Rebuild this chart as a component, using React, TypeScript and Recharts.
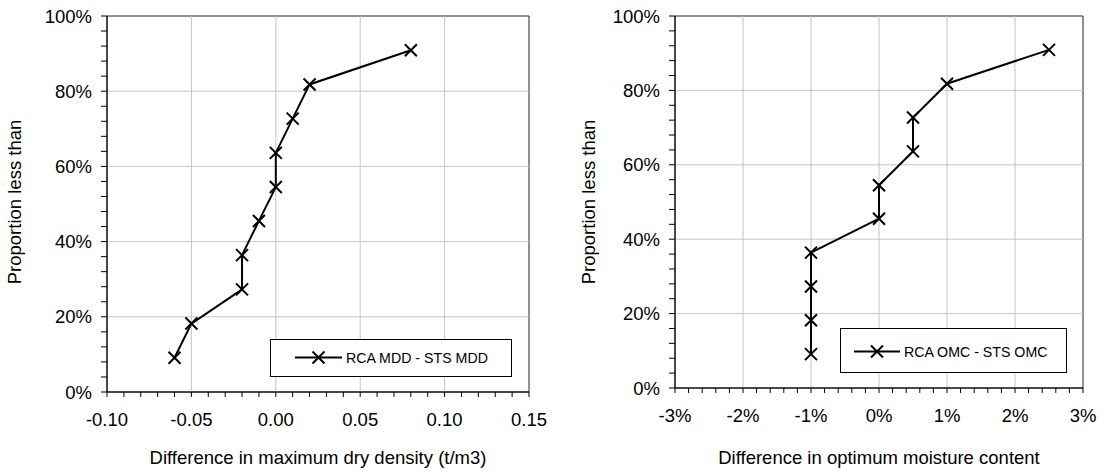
import React from 'react';
import {
  LineChart,
  Line,
  XAxis,
  YAxis,
  ReferenceLine,
  ReferenceArea,
  Legend,
  Label,
} from 'recharts';

// cumulative proportion (n = 11 samples)
const proportion = [0.091, 0.182, 0.273, 0.364, 0.455, 0.545, 0.636, 0.727, 0.818, 0.909];

// RCA MDD - STS MDD (t/m3)
const mddDiff = [-0.06, -0.05, -0.02, -0.02, -0.01, 0.0, 0.0, 0.01, 0.02, 0.08];
// RCA OMC - STS OMC
const omcDiff = [-0.01, -0.01, -0.01, -0.01, 0.0, 0.0, 0.005, 0.005, 0.01, 0.025];

const yMajorTicks = [0, 0.2, 0.4, 0.6, 0.8, 1];
const mddMajorTicks = [-0.1, -0.05, 0, 0.05, 0.1, 0.15];
const omcMajorTicks = [-0.03, -0.02, -0.01, 0, 0.01, 0.02, 0.03];

const FONT = '"Liberation Sans", Arial, Helvetica, sans-serif';
const GRID = '#c4c4c4';

const minorTicks = (from: number, to: number, step: number) => {
  const n = Math.round((to - from) / step);
  return Array.from({ length: n + 1 }, (_, i) => +(from + i * step).toFixed(6));
};
const yAllTicks = minorTicks(0, 1, 0.04);

const isMajor = (v: number, majors: number[]) => majors.some((m) => Math.abs(m - v) < 1e-9);

const XMark = (props: any) => {
  const { cx, cy, index } = props;
  if (cx == null || cy == null) return <g key={index} />;
  const s = 6;
  return (
    <path
      key={index}
      d={`M${cx - s},${cy - s}L${cx + s},${cy + s}M${cx - s},${cy + s}L${cx + s},${cy - s}`}
      stroke="#000"
      strokeWidth={2}
      fill="none"
    />
  );
};

type PanelProps = {
  left: number;
  width: number;
  xValues: number[];
  xDomain: [number, number];
  xMinorStep: number;
  xMajors: number[];
  fmt: (v: number) => string;
  xTitle: string;
  yAxisWidth: number;
  marginRight: number;
  xAxisHeight: number;
  yTitleX: number;
  seriesName: string;
  legend: { left: number; top: number; w: number; h: number; x1: number; x2: number; ly: number; tx: number; ty: number };
};

const Panel = (p: PanelProps) => {
  const data = p.xValues.map((x, i) => ({ x, y: proportion[i] }));
  const xAll = minorTicks(p.xDomain[0], p.xDomain[1], p.xMinorStep);
  const H = 473;
  const lg = p.legend;

  const legendContent = () => (
    <svg width={lg.w} height={lg.h} style={{ display: 'block' }}>
      <rect x={0.5} y={0.5} width={lg.w - 1} height={lg.h - 1} fill="#fff" stroke="#000" />
      <line x1={lg.x1} x2={lg.x2} y1={lg.ly} y2={lg.ly} stroke="#000" strokeWidth={2} />
      <XMark cx={(lg.x1 + lg.x2) / 2} cy={lg.ly} index={0} />
      <text x={lg.tx} y={lg.ty} fontSize={14.2} fontFamily={FONT} fill="#000">
        {p.seriesName}
      </text>
    </svg>
  );

  return (
    <div style={{ position: 'absolute', left: p.left, top: 0 }}>
      <LineChart
        width={p.width}
        height={H}
        data={data}
        margin={{ top: 16, right: p.marginRight, left: 0, bottom: 0 }}
      >
        <XAxis
          type="number"
          dataKey="x"
          domain={p.xDomain}
          ticks={xAll}
          interval={0}
          height={p.xAxisHeight}
          allowDataOverflow
          stroke="#000"
          tickSize={5}
          tickLine={{ stroke: '#000' }}
          tick={(t: any) => {
            const v = t.payload.value;
            if (!isMajor(v, p.xMajors)) return <g />;
            return (
              <text x={t.x} y={t.y + 26.5} textAnchor="middle" fontSize={18.5} fontFamily={FONT} fill="#000">
                {p.fmt(v)}
              </text>
            );
          }}
        >
          <Label
            content={(lp: any) => {
              const vb = lp.viewBox;
              return (
                <text
                  x={vb.x + vb.width / 2}
                  y={464}
                  textAnchor="middle"
                  fontSize={18.5}
                  fontFamily={FONT}
                  fill="#000"
                >
                  {p.xTitle}
                </text>
              );
            }}
          />
        </XAxis>
        <YAxis
          type="number"
          dataKey="y"
          domain={[0, 1]}
          ticks={yAllTicks}
          interval={0}
          width={p.yAxisWidth}
          allowDataOverflow
          stroke="#000"
          tickSize={6}
          tickLine={{ stroke: '#000' }}
          tick={(t: any) => {
            const v = t.payload.value;
            if (!isMajor(v, yMajorTicks)) return <g />;
            return (
              <text x={t.x - 7} y={t.y} dy="0.36em" textAnchor="end" fontSize={18.5} fontFamily={FONT} fill="#000">
                {`${Math.round(v * 100)}%`}
              </text>
            );
          }}
        >
          <Label
            content={() => (
              <text
                x={p.yTitleX}
                y={202}
                transform={`rotate(-90 ${p.yTitleX} 202)`}
                textAnchor="middle"
                fontSize={18.5}
                fontFamily={FONT}
                fill="#000"
              >
                Proportion less than
              </text>
            )}
          />
        </YAxis>
        {p.xMajors.slice(1, -1).map((v) => (
          <ReferenceLine key={`vx${v}`} x={v} stroke={GRID} strokeWidth={1} />
        ))}
        {yMajorTicks.slice(1, -1).map((v) => (
          <ReferenceLine key={`hy${v}`} y={v} stroke={GRID} strokeWidth={1} />
        ))}
        <ReferenceArea
          x1={p.xDomain[0]}
          x2={p.xDomain[1]}
          y1={0}
          y2={1}
          fill="none"
          fillOpacity={0}
          stroke="#222"
          strokeWidth={1}
        />
        <Legend
          layout="horizontal"
          align="center"
          verticalAlign="middle"
          content={legendContent}
          wrapperStyle={{ left: lg.left, top: lg.top, width: lg.w, height: lg.h }}
        />
        <Line
          type="linear"
          dataKey="y"
          name={p.seriesName}
          stroke="#000"
          strokeWidth={2}
          dot={XMark}
          activeDot={false}
          isAnimationActive={false}
        />
      </LineChart>
    </div>
  );
};

export default function App() {
  return (
    <div
      style={{
        position: 'absolute',
        left: 0,
        top: 0,
        width: 1106,
        height: 473,
        background: '#fff',
        overflow: 'hidden',
      }}
    >
      <Panel
        left={0}
        width={560}
        xValues={mddDiff}
        xDomain={[-0.1, 0.15]}
        xMinorStep={0.01}
        xMajors={mddMajorTicks}
        fmt={(v) => v.toFixed(2)}
        xTitle="Difference in maximum dry density (t/m3)"
        yAxisWidth={107}
        marginRight={31}
        xAxisHeight={81}
        yTitleX={21}
        seriesName="RCA MDD - STS MDD"
        legend={{ left: 270, top: 339, w: 242, h: 38, x1: 25, x2: 72, ly: 18.5, tx: 76, ty: 23.6 }}
      />
      <Panel
        left={560}
        width={546}
        xValues={omcDiff}
        xDomain={[-0.03, 0.03]}
        xMinorStep={0.002}
        xMajors={omcMajorTicks}
        fmt={(v) => `${Math.round(v * 100)}%`}
        xTitle="Difference in optimum moisture content"
        yAxisWidth={115}
        marginRight={23}
        xAxisHeight={85}
        yTitleX={35}
        seriesName="RCA OMC - STS OMC"
        legend={{ left: 280, top: 328, w: 227, h: 45, x1: 14, x2: 60, ly: 23.5, tx: 64, ty: 29.3 }}
      />
    </div>
  );
}
